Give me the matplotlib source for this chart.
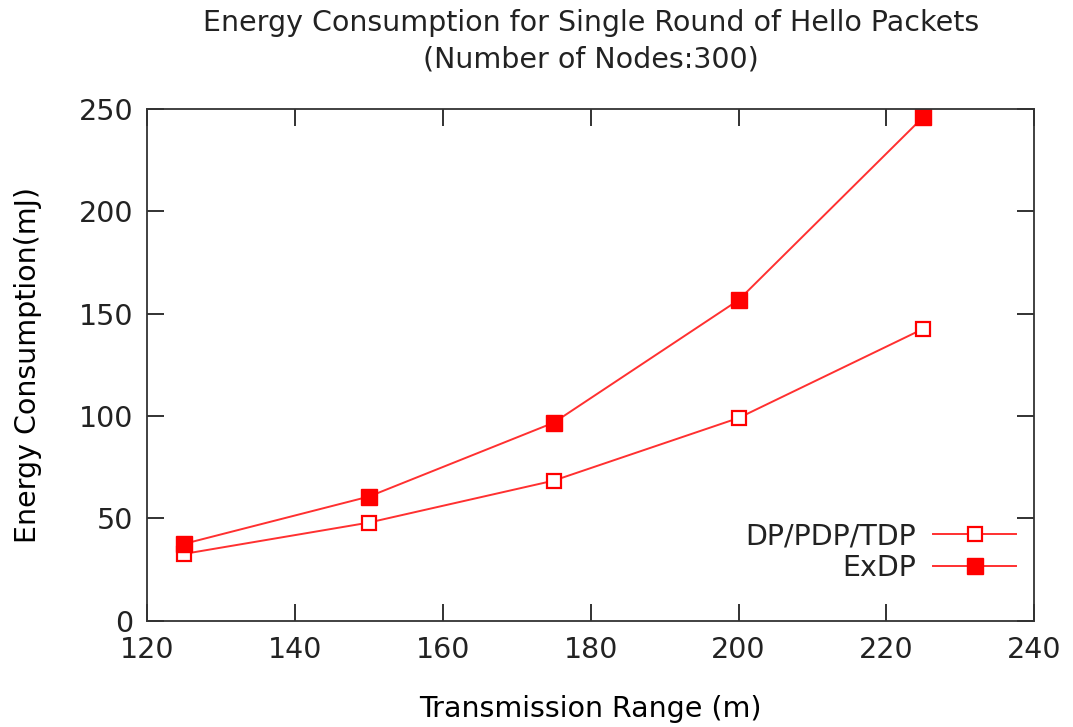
import matplotlib
matplotlib.use('Agg')
import matplotlib.pyplot as plt

ranges = [125, 150, 175, 200, 225]
dp_pdp_tdp = [32.7, 48.0, 68.5, 99.1, 142.7]
exdp = [37.6, 60.7, 96.8, 156.7, 246.2]

plt.rcParams['font.family'] = ['DejaVu Sans']
plt.rcParams['text.color'] = '#222222'

fig = plt.figure(figsize=(10.73, 7.27), dpi=100)
ax = fig.add_axes([0.137, 0.146, 0.827, 0.704])

ax.plot(ranges, dp_pdp_tdp, color='#ff3030', lw=1.4, marker='s', ms=10,
        mfc='white', mec='#ff0000', mew=1.6, label='DP/PDP/TDP')
ax.plot(ranges, exdp, color='#ff3030', lw=1.4, marker='s', ms=11,
        mfc='#ff0000', mec='#ff0000', label='ExDP')

ax.set_xlim(120, 240)
ax.set_ylim(0, 250)
ax.set_xticks(range(120, 241, 20))
ax.set_yticks(range(0, 251, 50))
ax.tick_params(direction='in', length=12, width=1.3, top=True, right=True,
               labelsize=20.5, colors='#222222', pad=10)
ax.tick_params(axis='x', pad=11)
for s in ax.spines.values():
    s.set_linewidth(1.3)
    s.set_color('#333333')

ax.set_xlabel('Transmission Range (m)', fontsize=20.5, labelpad=22)
ax.set_ylabel('Energy Consumption(mJ)', fontsize=20.5, labelpad=26)
ax.set_title('Energy Consumption for Single Round of Hello Packets\n(Number of Nodes:300)',
             fontsize=20.5, pad=30, linespacing=1.4)

ax.legend(loc='lower right', bbox_to_anchor=(1.008, 0.025), frameon=False,
          markerfirst=False, fontsize=20.5, handlelength=2.9, labelspacing=0.15,
          handletextpad=0.6)

fig.savefig('out.png', dpi=100)
